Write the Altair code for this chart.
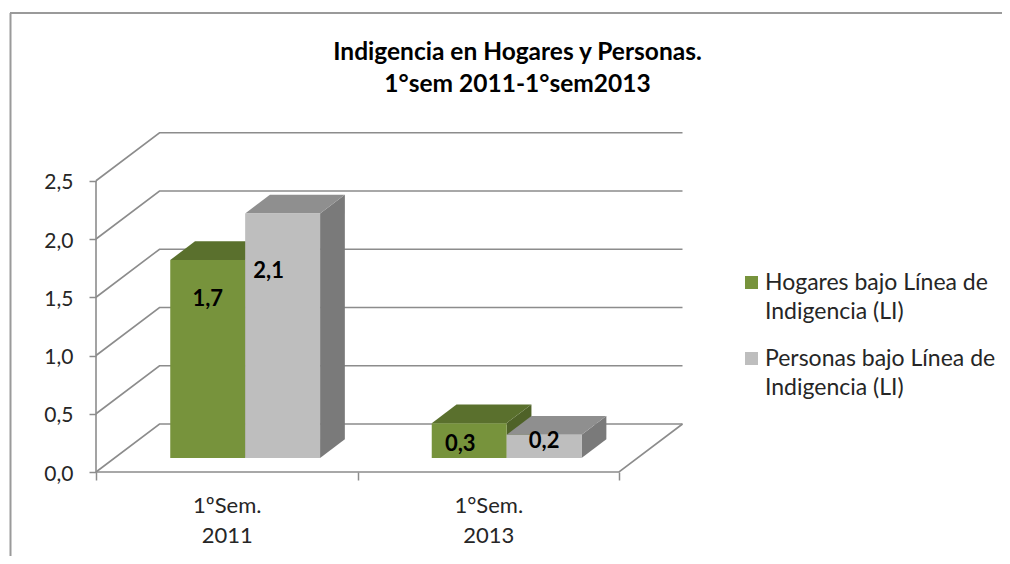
import altair as alt
import pandas as pd

# ---- values ----
CATEGORIES = ["1ºSem.|2011", "1°Sem.|2013"]
SERIES = ["Hogares bajo Línea de Indigencia (LI)", "Personas bajo Línea de Indigencia (LI)"]
HOGARES = [1.7, 0.3]
PERSONAS = [2.1, 0.2]
Y_TICKS = [0.0, 0.5, 1.0, 1.5, 2.0, 2.5]
TITLE = ["Indigencia en Hogares y Personas.", "1°sem 2011-1°sem2013"]
LEGEND_LINES = [["Hogares bajo Línea de", "Indigencia (LI)"], ["Personas bajo Línea de", "Indigencia (LI)"]]

# ---- styles ----
FRONT = ["#77933C", "#BEBEBE"]
TOP = ["#5A702D", "#8F8F8F"]
SIDE = ["#4F6228", "#7A7A7A"]
GRID = "#8C8C8C"
TEXT = "#262626"
FONT = "Lato"

# ---- oblique projection, in data units ----
PX_PER_CAT, PX_PER_VAL = 261.5, 116.5
W, H = 587, 339
DX, DY = 63.5 / PX_PER_CAT, 48 / PX_PER_VAL      # full depth of the floor
BAR_T0, BAR_T1 = 0.29, 0.68                       # bar depth range on the floor
MARGIN, BAR_W = 0.2135, 0.2865

faces, fid = [], 0


def add_face(points, color):
    global fid
    for x, y, y2 in points:
        faces.append(dict(face=fid, x=x, y=y, y2=y2, fill=color))
    fid += 1


labels = []
for c in range(len(CATEGORIES)):
    for s, vals in enumerate([HOGARES, PERSONAS]):
        v = vals[c]
        x0 = c + MARGIN + s * BAR_W
        x1 = x0 + BAR_W
        bx, by = BAR_T0 * DX, BAR_T0 * DY       # front plane shift
        sx, sy = (BAR_T1 - BAR_T0) * DX, (BAR_T1 - BAR_T0) * DY  # depth of bar
        left, right = x0 + bx, x1 + bx
        base, top = by, v + by
        add_face([(right, top, base), (right + sx, top + sy, base + sy)], SIDE[s])
        add_face([
            (left, top, top),
            (left + sx, top + sy, top),
            (right, top + sy, top),
            (right + sx, top + sy, top + sy),
        ], TOP[s])
        add_face([(left, top, base), (right, top, base)], FRONT[s])
        labels.append(dict(x=(left + right) / 2, y=top, text=f"{v:.1f}".replace(".", ",")))

df_faces = pd.DataFrame(faces)

wall_rows = []
for i, v in enumerate(Y_TICKS):
    for k, (x, y) in enumerate([(0, v), (DX, v + DY), (2 + DX, v + DY)]):
        wall_rows.append(dict(line=f"g{i}", k=k, x=x, y=y))
for k, (x, y) in enumerate([(0, 0), (2, 0), (2 + DX, DY)]):
    wall_rows.append(dict(line="floor", k=k, x=x, y=y))
for k, (x, y) in enumerate([(0, 0), (0, Y_TICKS[-1])]):
    wall_rows.append(dict(line="yaxis", k=k, x=x, y=y))
df_walls = pd.DataFrame(wall_rows)

xs = alt.Scale(domain=[0, W / PX_PER_CAT], nice=False, zero=False)
ys = alt.Scale(domain=[0, H / PX_PER_VAL], nice=False, zero=False)

x_label_expr = (
    "split(datum.value == 0.5 ? '" + CATEGORIES[0] + "' : datum.value == 1.5 ? '"
    + CATEGORIES[1] + "' : '', '|')"
)

x_axis = alt.Axis(
    values=[0, 0.5, 1, 1.5, 2], title=None, grid=False, domain=False,
    tickSize=8, tickWidth=1.5, tickColor=GRID,
    tickOpacity={"condition": {"test": "datum.value == 0.5 || datum.value == 1.5", "value": 0}, "value": 1},
    labelExpr=x_label_expr, labelFont=FONT, labelFontSize=22, labelColor=TEXT,
    labelLineHeight=30, labelPadding=15, labelOverlap=False, labelFlush=False,
)
y_axis = alt.Axis(
    values=Y_TICKS, title=None, grid=False, domain=False,
    tickSize=7, tickWidth=1.5, tickColor=GRID,
    labelExpr="replace(format(datum.value, '.1f'), '.', ',')",
    labelFont=FONT, labelFontSize=21, labelColor=TEXT, labelPadding=16, labelOffset=2,
    labelOverlap=False, labelFlush=False,
)
X = alt.X("x:Q", scale=xs, axis=x_axis)
Y = alt.Y("y:Q", scale=ys, axis=y_axis)

walls = alt.Chart(df_walls).mark_line(color=GRID, strokeWidth=1.6, clip=False).encode(
    x=X, y=Y, detail="line:N", order="k:Q",
)

bars = alt.Chart(df_faces).mark_area(interpolate="linear", strokeWidth=0).encode(
    x=X, y=Y, y2="y2:Q", fill=alt.Fill("fill:N", scale=None), detail="face:N",
)

label_offsets = [(0, 39), (-14, 58), (-9, 21), (0, 6)]
label_layers = []
for lab, (ox, oy) in zip(labels, label_offsets):
    label_layers.append(
        alt.Chart(pd.DataFrame([lab])).mark_text(
            font=FONT, fontSize=22, fontWeight="bold", color="#000000",
            dx=ox, dy=oy, align="center", baseline="middle",
        ).encode(x=X, y=Y, text="text:N")
    )

# frame and legend live outside the plot area, in pixels relative to it
OX, OY = 96, 133
CANVAS_W, CANVAS_H = 994, 548
frame_left = alt.Chart(pd.DataFrame({"a": [0]})).mark_rule(color="#9A9A9A", strokeWidth=2).encode(
    x=alt.value(10.5 - OX), y=alt.value(13 - OY), y2=alt.value(8 + CANVAS_H - OY))
frame_top = alt.Chart(pd.DataFrame({"a": [0]})).mark_rule(color="#9A9A9A", strokeWidth=2).encode(
    y=alt.value(13 - OY), x=alt.value(10 - OX), x2=alt.value(8 + CANVAS_W - OX))

legend_layers = []
for i, lines in enumerate(LEGEND_LINES):
    sy = 282.5 + i * 76
    legend_layers.append(
        alt.Chart(pd.DataFrame({"s": [SERIES[i]]})).mark_square(size=170, opacity=1, color=FRONT[i]).encode(
            x=alt.value(751.5 - OX), y=alt.value(sy - OY))
    )
    legend_layers.append(
        alt.Chart(pd.DataFrame({"t": [lines]})).mark_text(
            font=FONT, fontSize=23, color=TEXT, align="left", baseline="middle", lineHeight=29,
        ).encode(x=alt.value(765 - OX), y=alt.value(sy - OY), text="t:N")
    )

chart = alt.layer(walls, bars, *label_layers, frame_left, frame_top, *legend_layers).properties(
    width=W, height=H,
    padding={"left": OX - 8, "top": OY - 8, "right": CANVAS_W - (OX - 8) - W, "bottom": CANVAS_H - (OY - 8) - H},
    autosize="none",
    background="white",
    title=alt.TitleParams(
        text=TITLE, font=FONT, fontSize=24.5, fontWeight="bold", color="#000000",
        lineHeight=32, anchor="middle", align="center", dx=128, offset=-85,
    ),
).configure_view(stroke=None)

chart.save("out.html", embed_options={"renderer": "svg", "actions": False})
